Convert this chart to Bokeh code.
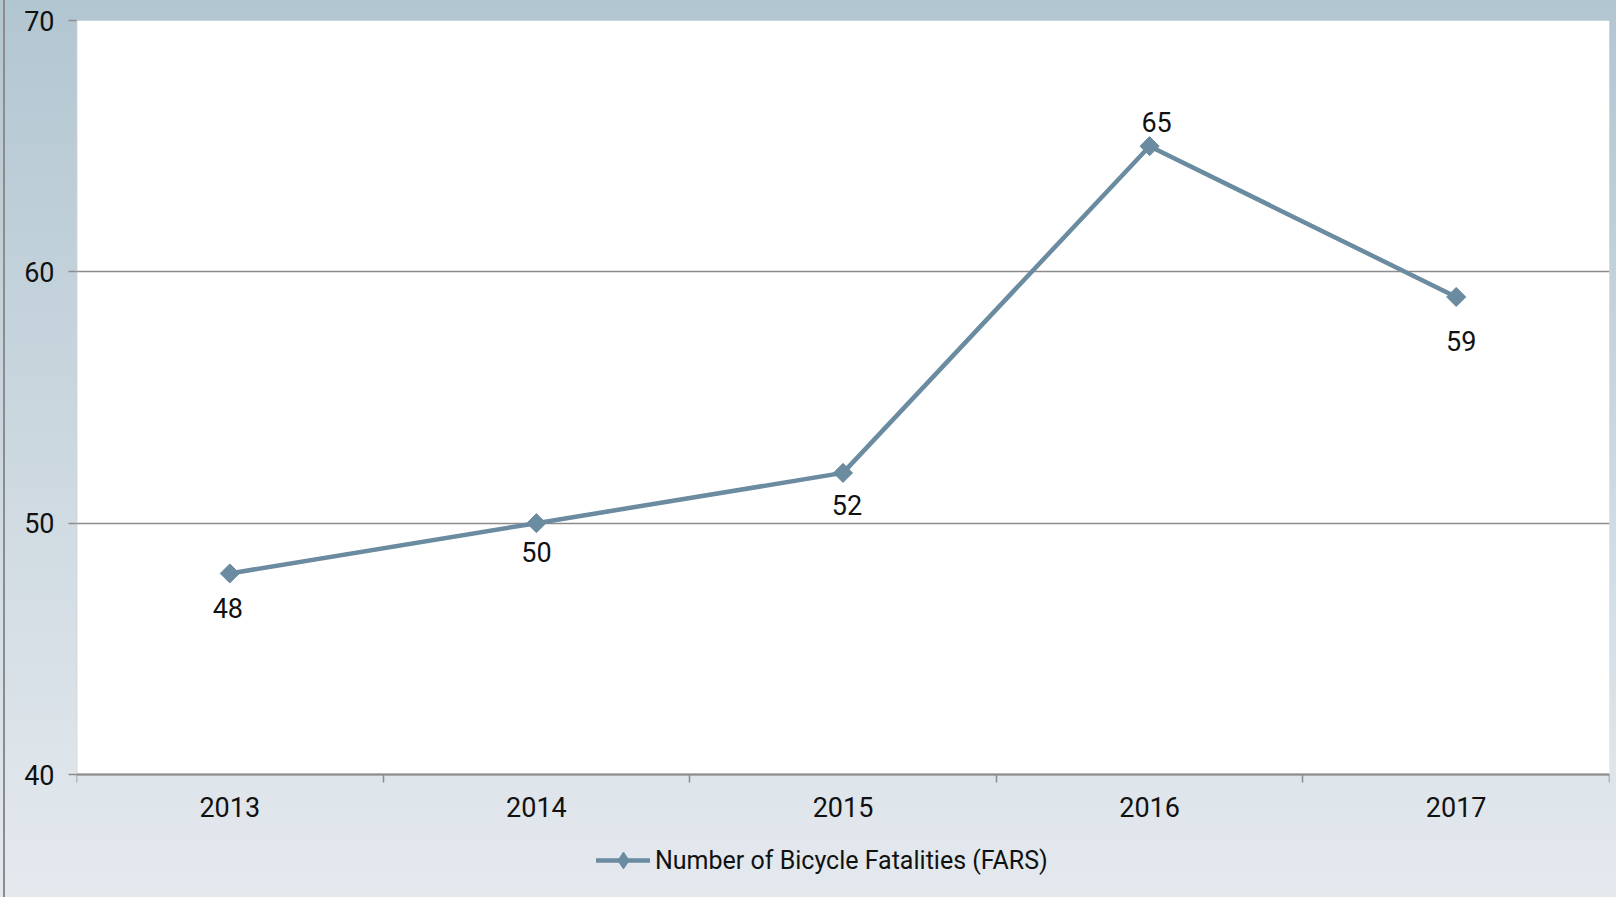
import math
from bokeh.plotting import figure
from bokeh.models import FixedTicker, Legend, LegendItem, BoxAnnotation
from bokeh.core.properties import value
from bokeh.embed import file_html
from bokeh.resources import INLINE

# ---- data ----
years = ["2013", "2014", "2015", "2016", "2017"]
fatalities = [48, 50, 52, 65, 59]
y_ticks = [40, 50, 60, 70]
series_name = "Number of Bicycle Fatalities (FARS)"

# label placement (style): pixel offsets for the data labels
label_dx = [-2, 0, 4, 7, 5]
label_dy = [35, 29, 32, -24, 44]

LINE = "#6a8ba0"
GRID = "#8c8c8c"
FONT = "Roboto"

# layout (pixels)
W, H = 1616, 897
LEFT, TOP, RIGHT = 76, 20, 7
AXIS_Y = 774                      # pixel row of the value 40
y_lo, y_hi = y_ticks[0], y_ticks[-1]
px_per_unit = (AXIS_Y - TOP) / (y_hi - y_lo)
y_start = y_lo - (H - AXIS_Y) / px_per_unit   # frame extends below the axis for the legend

xs = [i + 0.5 for i in range(len(years))]

p = figure(width=W, height=H, x_range=(0, len(years)), y_range=(y_start, y_hi),
           output_backend="svg", toolbar_location=None,
           min_border_left=LEFT, min_border_right=RIGHT, min_border_top=TOP,
           min_border_bottom=0)
p.border_fill_color = None
p.background_fill_color = None
p.outline_line_color = None
p.styles = {"background": ("linear-gradient(to right, rgba(0,0,0,0) 3px, #8c8c8c 3px, "
                           "#8c8c8c 5px, rgba(0,0,0,0) 5px), "
                           "linear-gradient(to bottom, #b2c6d1 0%, #d6dfe6 70%, #e4e9ee 100%)")}

# white plot area (40..70) and its left edge line
p.add_layout(BoxAnnotation(bottom=y_lo, top=y_hi, fill_color="white", fill_alpha=1,
                           line_color=None, level="image"))
p.add_layout(BoxAnnotation(left=0, right=0, bottom=y_lo, top=y_hi, fill_alpha=0,
                           line_color=GRID, line_width=2, level="underlay"))

# y axis
p.yaxis.ticker = FixedTicker(ticks=y_ticks)
p.yaxis.axis_line_color = None
p.yaxis.major_tick_out = 8
p.yaxis.major_tick_in = 0
p.yaxis.major_tick_line_color = GRID
p.yaxis.major_tick_line_width = 1.5
p.yaxis.minor_tick_line_color = None
p.yaxis.major_label_standoff = 14
p.yaxis.major_label_text_font = FONT
p.yaxis.major_label_text_font_size = "27px"
p.yaxis.major_label_text_color = "#111111"

# x axis at value 40: labels at centers, ticks at category boundaries
p.xaxis.fixed_location = y_lo
p.xaxis.ticker = FixedTicker(ticks=xs, minor_ticks=list(range(len(years) + 1)))
p.xaxis.major_label_overrides = {x: y for x, y in zip(xs, years)}
p.xaxis.axis_line_color = GRID
p.xaxis.axis_line_width = 2
p.xaxis.major_tick_out = 0
p.xaxis.major_tick_in = 0
p.xaxis.minor_tick_out = 8
p.xaxis.minor_tick_in = 0
p.xaxis.minor_tick_line_color = GRID
p.xaxis.minor_tick_line_width = 1.5
p.xaxis.major_label_standoff = 14
p.xaxis.major_label_text_font = FONT
p.xaxis.major_label_text_font_size = "27px"
p.xaxis.major_label_text_color = "#111111"

p.xgrid.grid_line_color = None
p.ygrid.ticker = FixedTicker(ticks=y_ticks)
p.ygrid.grid_line_color = GRID
p.ygrid.grid_line_width = 1.5

line_r = p.line(xs, fatalities, line_color=LINE, line_width=4.5, line_cap="round")
# diamond markers (legend uses these); covered by rotated squares in the plot
leg_mark = p.scatter(xs, fatalities, marker="diamond", size=17,
                     fill_color=LINE, line_color=LINE)
p.scatter(xs, fatalities, marker="square", size=13.5, angle=math.pi / 4,
          fill_color=LINE, line_color=LINE)

p.text(x=xs, y=fatalities, text=[str(v) for v in fatalities],
       x_offset=label_dx, y_offset=label_dy,
       text_align="center", text_baseline="middle",
       text_font=value(FONT), text_font_size="27px", text_color="#111111")

legend = Legend(items=[LegendItem(label=series_name, renderers=[line_r, leg_mark])],
                location=(520, 16), orientation="horizontal",
                glyph_width=54, glyph_height=42, label_standoff=5,
                padding=0, margin=0, border_line_color=None,
                background_fill_alpha=0,
                label_text_font=FONT, label_text_font_size="25px",
                label_text_color="#111111")
p.add_layout(legend)

open("out.html", "w").write(file_html(p, INLINE))
